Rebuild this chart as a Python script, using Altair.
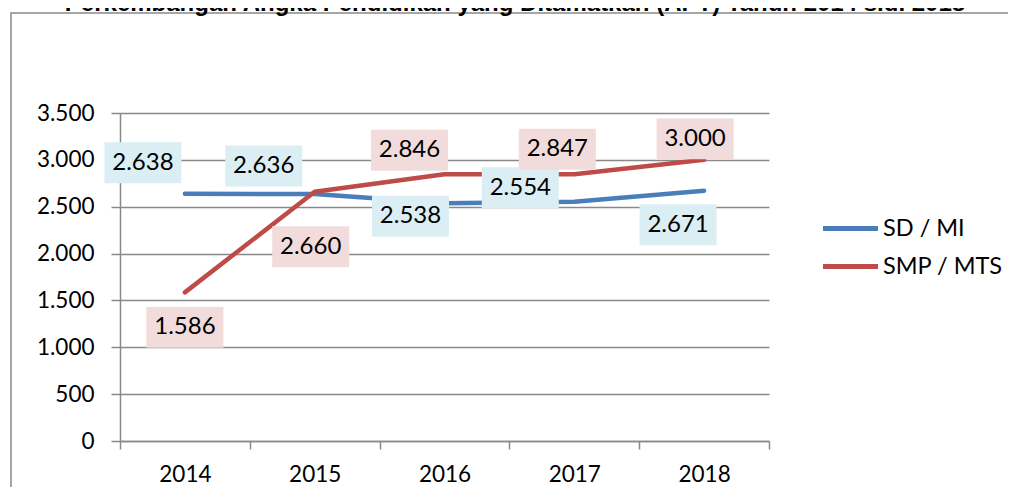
import altair as alt
import pandas as pd

# ---- data -------------------------------------------------------------
years = ["2014", "2015", "2016", "2017", "2018"]
sd_mi = [2638, 2636, 2538, 2554, 2671]
smp_mts = [1586, 2660, 2846, 2847, 3000]
series_names = ["SD / MI", "SMP / MTS"]
title_text = "Perkembangan Angka Pendidikan yang Ditamatkan (APT) Tahun 2014 s.d. 2018"
y_ticks = [0, 500, 1000, 1500, 2000, 2500, 3000, 3500]

# ---- styling ----------------------------------------------------------
colors = ["#4a7ebb", "#be4b48"]
box_fills = ["#dbeef4", "#f2dcdb"]
# label box offsets in pixels relative to each data point (dx, dy)
sd_label_offsets = [(-42, -31), (-51, -28), (-34, 13), (-54, -14), (-26, 34)]
smp_label_offsets = [(0, 35), (-4, 55), (-35, -24), (-17, -25), (-9, -21)]
GRID = "#898989"
W, H = 649, 328


def fmt(v):
    return f"{v:,}".replace(",", ".")


rows = []
for name, vals in zip(series_names, [sd_mi, smp_mts]):
    for yr, v in zip(years, vals):
        rows.append({"year": yr, "value": v, "series": name, "label": fmt(v)})
df = pd.DataFrame(rows)

x_enc = alt.X(
    "year:N",
    scale=alt.Scale(type="band", domain=years, paddingInner=0, paddingOuter=0),
    axis=alt.Axis(
        title=None, labelAngle=0, tickBand="extent", grid=False,
        tickSize=8, tickColor=GRID, tickWidth=1.5, domainColor=GRID, domainWidth=1.5,
        labelFont="Lato", labelFontSize=22.5, labelColor="black", labelPadding=14,
    ),
)
y_enc = alt.Y(
    "value:Q",
    scale=alt.Scale(domain=[0, 3500], nice=False, zero=True),
    axis=alt.Axis(
        title=None, values=y_ticks,
        labelExpr="replace(format(datum.value, ','), ',', '.')",
        grid=True, gridColor=GRID, gridWidth=1.5,
        tickSize=9, tickColor=GRID, tickWidth=1.5, domainColor=GRID, domainWidth=1.5,
        labelFont="Lato", labelFontSize=22.5, labelColor="black", labelPadding=17,
    ),
)

lines = alt.Chart(df).mark_line(
    strokeWidth=4.5, strokeCap="round", strokeJoin="round"
).encode(
    x=x_enc,
    y=y_enc,
    color=alt.Color(
        "series:N",
        scale=alt.Scale(domain=series_names, range=colors),
        legend=alt.Legend(
            title=None, orient="none", legendX=709, legendY=94,
            symbolType="M-1.447,0L1.447,0", symbolSize=1444, symbolStrokeWidth=5,
            labelFont="Lato", labelFontSize=23.5, labelColor="black",
            labelOffset=11, rowPadding=5, padding=0,
        ),
    ),
)

label_layers = []
for si, (name, offsets) in enumerate(zip(series_names, [sd_label_offsets, smp_label_offsets])):
    for yr, (dx, dy) in zip(years, offsets):
        sub = alt.Chart(df).transform_filter(
            (alt.datum.series == name) & (alt.datum.year == yr)
        )
        box = sub.mark_point(
            shape="M-1,-0.532L1,-0.532L1,0.532L-1,0.532Z", size=77 * 77,
            filled=True, fill=box_fills[si], opacity=1, strokeWidth=0,
            xOffset=dx, yOffset=dy,
        ).encode(x=x_enc, y=y_enc)
        txt = sub.mark_text(
            font="Lato", fontSize=24, color="black", align="center",
            baseline="middle", dx=dx, dy=dy,
        ).encode(x=x_enc, y=y_enc, text="label:N")
        label_layers += [box, txt]

border = alt.Chart(pd.DataFrame({"k": [0]})).mark_rect(
    fill="transparent", stroke=GRID, strokeWidth=1.5
).encode(x=alt.value(-109), x2=alt.value(2000), y=alt.value(-100), y2=alt.value(2000))

title = alt.Chart(pd.DataFrame({"t": [title_text]})).mark_text(
    font="Liberation Sans", fontWeight="bold", fontSize=24, align="center",
    baseline="alphabetic", color="black",
).encode(x=alt.value(395), y=alt.value(-102), text="t:N")

chart = alt.layer(border, title, lines, *label_layers).properties(
    width=W, height=H,
    autosize=alt.AutoSizeParams(type="none"),
    padding={"left": 112, "top": 105, "right": 239, "bottom": 46},
    background="white",
).configure_view(stroke=None)

chart.save("out.html", embed_options={"renderer": "svg", "actions": False})
